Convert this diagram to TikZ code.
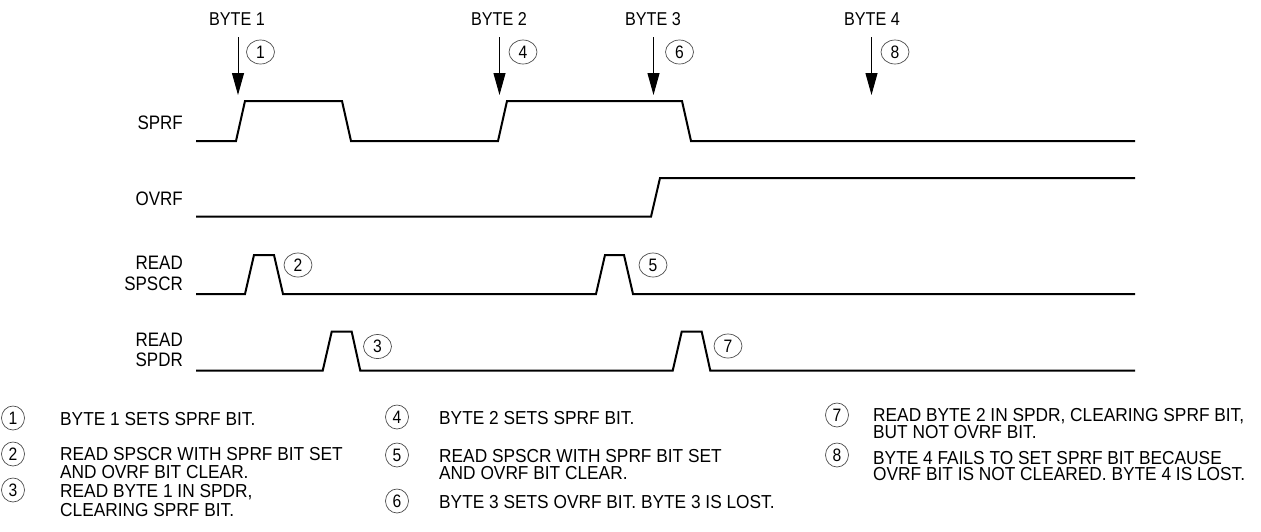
\documentclass[tikz,border=0pt]{standalone}
\usepackage{fontspec}
\setmainfont{Liberation Sans}[FakeStretch=0.87]
\newfontfamily\legendfont{Liberation Sans}[FakeStretch=0.92]
\usetikzlibrary{arrows.meta,shapes.geometric}
\begin{document}
\begin{tikzpicture}[x=1pt,y=-1pt,
  sig/.style={line width=2pt, line join=miter},
  lbl/.style={inner sep=0pt, font=\fontsize{19.5}{20}\selectfont, anchor=base east},
  toplbl/.style={inner sep=0pt, font=\fontsize{18.6}{19}\selectfont, anchor=base},
  txt/.style={inner sep=0pt, font=\legendfont\fontsize{18.8}{19}\selectfont, anchor=base west},
  num/.style={draw=black!70, line width=0.7pt, ellipse, inner sep=0pt, minimum width=28pt, minimum height=24pt, font=\fontsize{18}{18}\selectfont},
  lnum/.style={num, minimum width=23pt, minimum height=24pt},
  ptr/.style={line width=1pt, -{Triangle[length=22pt,width=12pt]}}]
\useasboundingbox (0,0) rectangle (1261,531);

% signal labels
\node[lbl] (lsprf) at (183,129) {SPRF};
\node[lbl] (lovrf) at (183,205) {OVRF};
\node[lbl] (lrs1) at (183,269.5) {READ};
\node[lbl] (lrs2) at (183,290.5) {SPSCR};
\node[lbl] (lrd1) at (183,346.5) {READ};
\node[lbl] (lrd2) at (183,366) {SPDR};

% top labels and pointers
\node[toplbl] (b1) at (237,25) {BYTE 1};
\node[toplbl] (b2) at (499,25) {BYTE 2};
\node[toplbl] (b3) at (653,25) {BYTE 3};
\node[toplbl] (b4) at (872,25) {BYTE 4};
\coordinate (p1s) at (238,37);  \coordinate (p1e) at (238,95);
\coordinate (p2s) at (499.5,37);\coordinate (p2e) at (499.5,95);
\coordinate (p3s) at (653.5,37);\coordinate (p3e) at (653.5,95);
\coordinate (p4s) at (871.5,37);\coordinate (p4e) at (871.5,95);
\draw[ptr] (p1s) -- (p1e);
\draw[ptr] (p2s) -- (p2e);
\draw[ptr] (p3s) -- (p3e);
\draw[ptr] (p4s) -- (p4e);

% numbered markers in diagram
\node[num] (n1) at (260.5,52) {1};
\node[num] (n4) at (523,52) {4};
\node[num] (n6) at (679.5,52) {6};
\node[num] (n8) at (895,52) {8};
\node[num] (n2) at (298,265) {2};
\node[num] (n5) at (653,265) {5};
\node[num] (n3) at (377.5,346.5) {3};
\node[num] (n7) at (728,346) {7};

% waveforms
\draw[sig] (196,141) -- (236,141) -- (245,101) -- (342,101) -- (351,141) -- (498,141) -- (507,101) -- (682,101) -- (691,141) -- (1135,141);
\draw[sig] (196,216.7) -- (651,216.7) -- (660,178) -- (1135,178);
\draw[sig] (196,294) -- (245,294) -- (254,255) -- (274,255) -- (283,294) -- (596,294) -- (605,255) -- (624,255) -- (633,294) -- (1135,294);
\draw[sig] (196,370.7) -- (322.7,370.7) -- (331.7,331.7) -- (351.7,331.7) -- (360.3,370.7) -- (672.7,370.7) -- (681.7,331.7) -- (701.7,331.7) -- (710.3,370.7) -- (1135,370.7);

% legend column 1
\node[lnum] (c1) at (13,418) {1};
\node[txt] (t1) at (60,425) {BYTE 1 SETS SPRF BIT.};
\node[lnum] (c2) at (13,454) {2};
\node[txt] (t2a) at (60,460.7) {READ SPSCR WITH SPRF BIT SET};
\node[txt] (t2b) at (60,478.3) {AND OVRF BIT CLEAR.};
\node[lnum] (c3) at (13,490) {3};
\node[txt] (t3a) at (60,497.3) {READ BYTE 1 IN SPDR,};
\node[txt] (t3b) at (60,516) {CLEARING SPRF BIT.};

% legend column 2
\node[lnum] (c4) at (397,417) {4};
\node[txt] (t4) at (439,424) {BYTE 2 SETS SPRF BIT.};
\node[lnum] (c5) at (397,455) {5};
\node[txt] (t5a) at (439,462) {READ SPSCR WITH SPRF BIT SET};
\node[txt] (t5b) at (439,479.5) {AND OVRF BIT CLEAR.};
\node[lnum] (c6) at (397,501) {6};
\node[txt] (t6) at (439,508.5) {BYTE 3 SETS OVRF BIT. BYTE 3 IS LOST.};

% legend column 3
\node[lnum] (c7) at (837,415) {7};
\node[txt] (t7a) at (873,421.7) {READ BYTE 2 IN SPDR, CLEARING SPRF BIT,};
\node[txt] (t7b) at (873,438.5) {BUT NOT OVRF BIT.};
\node[lnum] (c8) at (837,455) {8};
\node[txt] (t8a) at (873,464) {BYTE 4 FAILS TO SET SPRF BIT BECAUSE};
\node[txt] (t8b) at (873,480.7) {OVRF BIT IS NOT CLEARED. BYTE 4 IS LOST.};
\end{tikzpicture}
\end{document}
